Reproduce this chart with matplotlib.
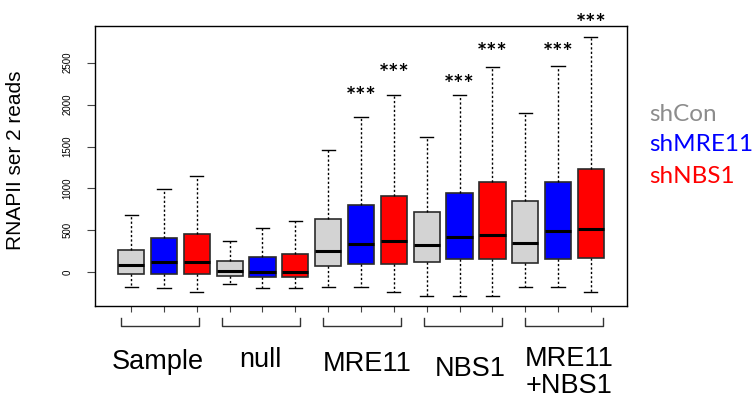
import numpy as np
import matplotlib.pyplot as plt
from matplotlib.transforms import blended_transform_factory

plt.rcParams['font.family'] = ['Liberation Sans', 'DejaVu Sans']

# box statistics, 3 knockdowns per group
groups = ["Sample", "null", "MRE11", "NBS1", "MRE11\n+NBS1"]
conditions = ["shCon", "shMRE11", "shNBS1"]
cond_colors = ["#d3d3d3", "#0000ff", "#ff0000"]
text_colors = ["#8c8c8c", "#0000ff", "#ff0000"]

whis_lo = [-179, -191, -239, -143, -191, -191, -179, -179, -239, -283, -283, -283, -171, -171, -239]
q1      = [-20, -20, -20, -48, -52, -52, 75, 99, 95, 119, 159, 163, 115, 159, 174]
median  = [87, 119, 127, 16, 8, 8, 254, 338, 370, 322, 425, 449, 353, 493, 520]
q3      = [266, 413, 457, 131, 182, 218, 632, 807, 910, 723, 942, 1081, 854, 1081, 1236]
whis_hi = [680, 994, 1149, 377, 525, 608, 1459, 1852, 2119, 1610, 2111, 2445, 1900, 2461, 2810]

# significance marks (box index, height of the *** label)
star_box = [8, 9, 11, 12, 14, 15]
star_y = [2090, 2355, 2224, 2613, 2613, 2955]

n = len(median)
positions = np.arange(1, n + 1)
stats = []
for i in range(n):
    stats.append(dict(whislo=whis_lo[i], q1=q1[i], med=median[i], q3=q3[i], whishi=whis_hi[i]))

fig = plt.figure(figsize=(7.54, 4.01), dpi=100)
ax = fig.add_axes([0.126, 0.2369, 0.7056, 0.6983])

bp = ax.bxp(stats, positions=positions, widths=0.8, capwidths=0.4, patch_artist=True,
            showfliers=False,
            boxprops=dict(edgecolor="#2b2b2b", linewidth=1.2),
            medianprops=dict(color="black", linewidth=2.2),
            whiskerprops=dict(color="black", linewidth=1, linestyle=(0, (1.6, 1.6))),
            capprops=dict(color="black", linewidth=1))
for i, box in enumerate(bp["boxes"]):
    box.set_facecolor(cond_colors[i % 3])

ax.set_xlim(-0.1, 16.1)
ax.set_ylim(-402, 2938)
ax.set_xticks(positions)
ax.set_xticklabels([])
ax.set_yticks([0, 500, 1000, 1500, 2000, 2500])
ax.set_yticklabels(["0", "500", "1000", "1500", "2000", "2500"], rotation=90, va="center", fontsize=7)
ax.tick_params(axis="y", direction="out", length=6, width=0.8, pad=10, color="#444444")
ax.tick_params(axis="x", direction="out", length=4.5, width=0.8, color="#444444")
for sp in ax.spines.values():
    sp.set_linewidth(1)
    sp.set_color("black")

for b, y in zip(star_box, star_y):
    ax.text(b, y, "***", ha="center", va="center", fontsize=17.5, family="Lato",
            fontweight="bold", clip_on=False)

# group brackets and labels under the axis
trans = blended_transform_factory(ax.transData, ax.transAxes)
label_shift = [-0.18, -0.05, 0.18, 0.32, 0.33]
label_y = [-0.225, -0.219, -0.231, -0.249, -0.312]
for g, name in enumerate(groups):
    c = 2 + 3 * g
    left = c - 1.32 + 0.075 * g
    right = left + 2.4
    ax.plot([left, left, right, right], [-0.0446, -0.0721, -0.0721, -0.0446],
            transform=trans, color="#333333", lw=1, clip_on=False)
    ax.text(c + label_shift[g], label_y[g], name, transform=trans, ha="center",
            va="baseline", fontsize=19.5, linespacing=1.05)

fig.text(0.021, 0.601, "RNAPII ser 2 reads", rotation=90, ha="center", va="center", fontsize=15)

legend_y = [0.699, 0.623, 0.543]
for name, col, y in zip(conditions, text_colors, legend_y):
    fig.text(0.861, y, name, color=col, fontsize=17.5, family="Lato", ha="left", va="baseline")

fig.savefig("out.png", dpi=100)
